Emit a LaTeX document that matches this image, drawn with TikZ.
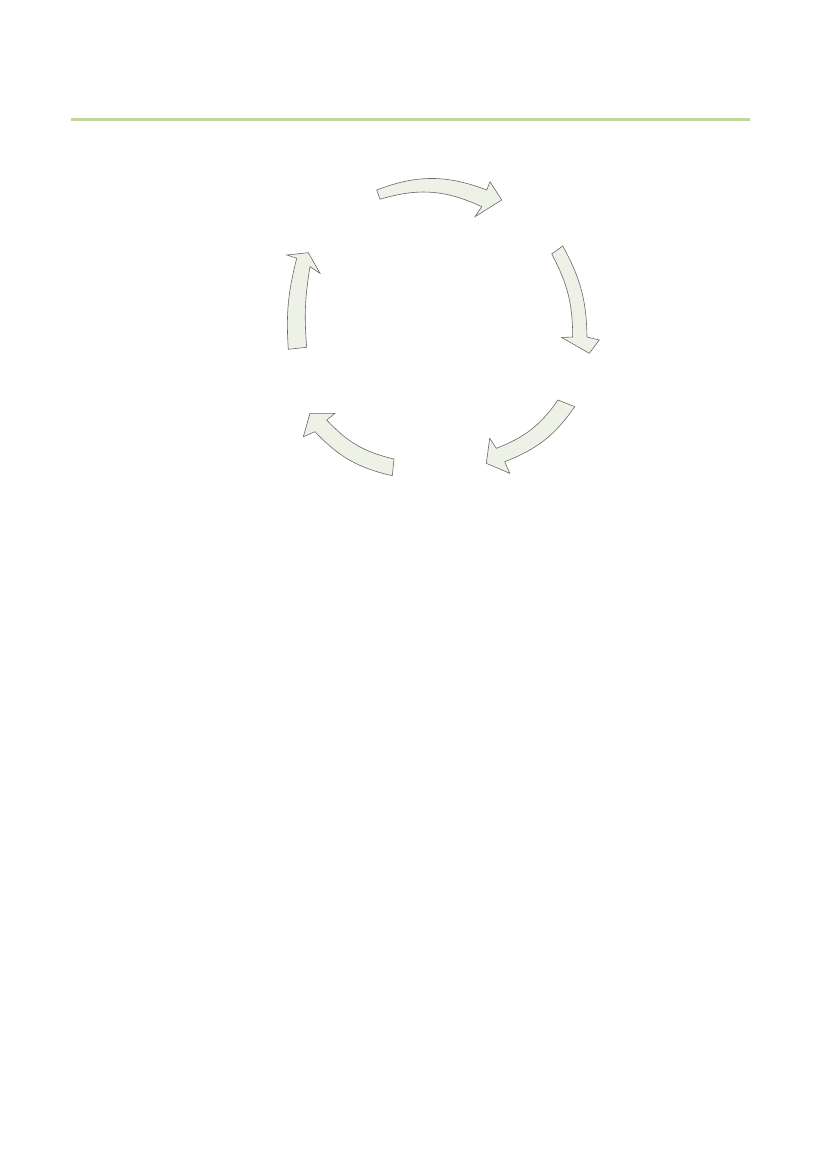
\documentclass[tikz,border=0pt]{standalone}
\definecolor{rulegreen}{RGB}{195,214,155}
\definecolor{arrowfill}{RGB}{238,241,230}
\definecolor{arrowline}{RGB}{105,105,105}
\begin{document}
\begin{tikzpicture}[x=1pt,y=1pt,
  cyc/.style={fill=arrowfill,draw=arrowline,line width=0.6pt,line join=miter}]
\useasboundingbox (0,0) rectangle (827,-1169);
% header rule
\draw[rulegreen,line width=3pt] (71,-119.3) -- (750,-119.3);
% top arrow
\coordinate (aTO) at (376.7,-190);   \coordinate (aTI) at (380,-199.3);
\coordinate (aNO) at (486.7,-190);   \coordinate (aNI) at (481.7,-206.7);
\coordinate (aBO) at (490,-181.7);   \coordinate (aBI) at (475,-216.7);
\coordinate (aT)  at (501.7,-200);
\draw[cyc] (aTO) to[bend left=21] (aNO) -- (aBO) -- (aT) -- (aBI) -- (aNI) to[bend right=21] (aTI) -- cycle;
% right arrow
\coordinate (bTO) at (562.7,-246);   \coordinate (bTI) at (551.7,-254);
\coordinate (bNO) at (587,-337);     \coordinate (bNI) at (572.7,-337);
\coordinate (bBO) at (599.3,-340);   \coordinate (bBI) at (561.7,-337.5);
\coordinate (bT)  at (589.3,-353.3);
\draw[cyc] (bTO) to[bend left=14] (bNO) -- (bBO) -- (bT) -- (bBI) -- (bNI) to[bend right=14] (bTI) -- cycle;
% bottom-right arrow
\coordinate (cTO) at (574.7,-406.7); \coordinate (cTI) at (558,-400);
\coordinate (cNO) at (504.7,-461.7); \coordinate (cNI) at (496.3,-448.3);
\coordinate (cBO) at (509.7,-473.3); \coordinate (cBI) at (489.7,-438.3);
\coordinate (cT)  at (486.3,-463.3);
\draw[cyc] (cTO) to[bend left=17] (cNO) -- (cBO) -- (cT) -- (cBI) -- (cNI) to[bend right=17] (cTI) -- cycle;
% bottom-left arrow
\coordinate (dTO) at (392.3,-475.7); \coordinate (dTI) at (394,-459);
\coordinate (dNO) at (315,-431.7);   \coordinate (dNI) at (326.7,-420);
\coordinate (dBO) at (303.3,-436.7); \coordinate (dBI) at (335,-413.3);
\coordinate (dT)  at (310,-413.3);
\draw[cyc] (dTO) to[bend left=17] (dNO) -- (dBO) -- (dT) -- (dBI) -- (dNI) to[bend right=17] (dTI) -- cycle;
% left arrow
\coordinate (eTO) at (288.3,-349.3); \coordinate (eTI) at (306.7,-347.3);
\coordinate (eNO) at (296.7,-258.3); \coordinate (eNI) at (310,-266.7);
\coordinate (eBO) at (286.7,-255);   \coordinate (eBI) at (320,-273.3);
\coordinate (eT)  at (308.3,-252.7);
\draw[cyc] (eTO) to[bend left=9] (eNO) -- (eBO) -- (eT) -- (eBI) -- (eNI) to[bend right=7] (eTI) -- cycle;
\end{tikzpicture}
\end{document}
